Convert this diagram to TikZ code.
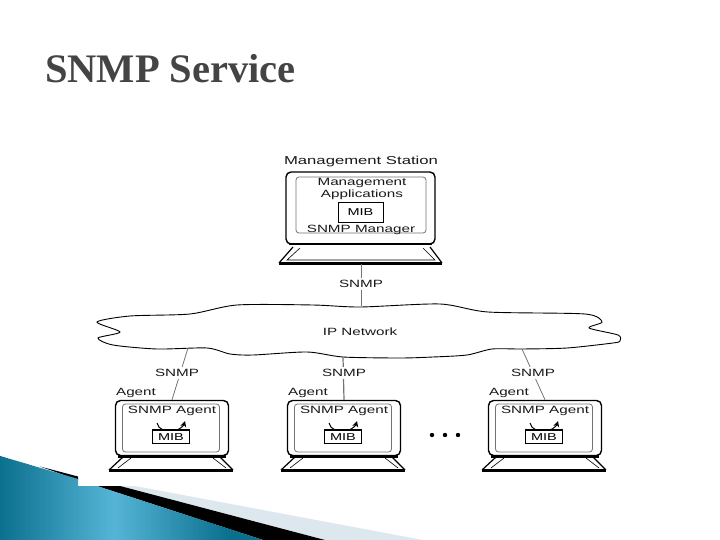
\documentclass[tikz,border=0pt]{standalone}
\usepackage{fontspec}
\setmainfont{Liberation Serif}
\newfontfamily\labelfont[FakeStretch=1.45]{Liberation Sans}
\usepackage{tikz}
\usetikzlibrary{arrows.meta}
\definecolor{titlegray}{HTML}{444444}
\definecolor{tealdark}{HTML}{0B6F8E}
\definecolor{teallight}{HTML}{56B5D6}
\definecolor{stripgray}{HTML}{DCE8EE}
\tikzset{
	lbl/.style={font=\labelfont\fontsize{10.5}{12}\selectfont,inner sep=0pt,text=black!90},
	lblw/.style={lbl,fill=white,inner xsep=1pt,inner ysep=2pt},
	wire/.style={draw=black!55,line width=0.8pt},
	frame/.style={draw=black,line width=1.4pt,rounded corners=5pt,fill=white},
	screen/.style={draw=black!55,line width=0.8pt,rounded corners=3pt},
	mibbox/.style={draw=black,line width=0.8pt,fill=white},
}
\begin{document}
\begin{tikzpicture}[x=1pt,y=-1pt]
	\useasboundingbox (0,0) rectangle (720,540);

	% slide corner
	\fill[stripgray] (135,486) -- (423,540) -- (325,540) -- (120,486) -- cycle;
	\fill[black] (40,466.5) -- (78,476.5) -- (78,480) -- cycle;
	\fill[black] (97,486) -- (120,486) -- (325,540) -- (263,540) -- cycle;
	\begin{scope}
		\clip (0,456) -- (78,479) -- (78,486) -- (97,486) -- (263,540) -- (0,540) -- cycle;
		\foreach \i in {0,...,88}{
			\pgfmathsetmacro\mixval{max(0,100*(1-abs(\i*3-115)/115))}
			\fill[teallight!\mixval!tealdark] (\i*3-2,456) -- (\i*3+2,456) -- (\i*3+2,540) -- (\i*3-2,540) -- cycle;
		}
	\end{scope}

	\node[font=\bfseries\fontsize{40.5}{44}\selectfont,text=titlegray,inner sep=0pt] (title) at (170.5,69) {SNMP Service};

	% cloud
	\draw[black,line width=0.9pt,fill=white] plot[smooth cycle,tension=0.45] coordinates {
		(97,322) (130,316) (190,314) (237,305) (313,305) (360,307) (440,304) (488,312)
		(585,314) (602,322) (589,328) (618,335) (620,341) (613,343) (567,348) (522,349)
		(492,349) (467,355) (433,357) (400,358) (343,357) (307,352) (253,355) (230,354)
		(207,348) (157,349) (113,345) (98,338) (120,332)};
	\node[lbl] (ipnet) at (360,332) {IP Network};
	\coordinate (cloudtop) at (361,306);
	\coordinate (cloudone) at (188,348);
	\coordinate (cloudtwo) at (343,357);
	\coordinate (cloudthree) at (522,349);

	% manager
	\node[lbl,font=\labelfont\fontsize{11.5}{12}\selectfont] (station) at (361,162) {Management Station};
	\draw[black,line width=1.2pt] (293,247) -- (279,263) (430,247) -- (442,263);
	\draw[black,line width=2.4pt] (279,263.5) -- (442,263.5);
	\draw[black,line width=0.6pt] (300,248) -- (287,260) -- (435,260) -- (423,248);
	\node[frame,minimum width=149pt,minimum height=72pt] (mgrframe) at (360.5,208) {};
	\draw[black,line width=2.2pt] (289,244) -- (432,244);
	\node[screen,minimum width=130pt,minimum height=56pt] (mgrscreen) at (361,205) {};
	\node[lbl] (mgrapp) at (362,183) {Management};
	\node[lbl] (mgrapptwo) at (362,195) {Applications};
	\node[mibbox,minimum width=45pt,minimum height=20pt,inner sep=0pt] (mgrmib) at (360.5,212) {\labelfont\fontsize{10}{12}\selectfont MIB};
	\node[lbl] (mgrname) at (361,229.5) {SNMP Manager};
	\coordinate (mgrbase) at (361,264);

	% agents
	\foreach \x/\n in {115/one,287/two,488/three}{
		\begin{scope}[xshift=\x pt]
			\draw[black,line width=1.2pt] (8,457) -- (-6,470) (105,457) -- (118,470);
			\draw[black,line width=3pt] (-6,470) -- (118,470);
			\draw[black,line width=0.6pt] (16,458) -- (3,468) (98,458) -- (111,468);
			\node[frame,minimum width=113pt,minimum height=55pt] (frame\n) at (57,428) {};
			\draw[black,line width=2.6pt] (3,456.5) -- (111,456.5);
			\node[screen,minimum width=97pt,minimum height=48pt] (screen\n) at (56,428) {};
			\node[lbl] (agent\n) at (21,393) {Agent};
			\node[lbl] (name\n) at (57,411) {SNMP Agent};
			\node[mibbox,minimum width=37pt,minimum height=13pt,inner sep=0pt] (mib\n) at (56,437) {\labelfont\fontsize{10}{12}\selectfont MIB};
			\draw[black,line width=1.6pt] (mib\n.north west) -- (mib\n.north east);
			\draw[black,line width=1pt] (42,423) to[bend right=25] (48,430);
			\draw[-{Stealth[length=6pt,width=6pt]},black,line width=1pt] (62,430) to[bend right=25] (70,421);
		\end{scope}
	}

	% links
	\draw[wire] (mgrbase) -- (cloudtop);
	\node[lblw] (snmptop) at (361,284) {SNMP};
	\draw[wire] (cloudone) -- (frameone.north);
	\node[lblw] (snmpone) at (177,373) {SNMP};
	\draw[wire,line width=1.2pt] (cloudtwo) -- (frametwo.north);
	\node[lblw] (snmptwo) at (344,373) {SNMP};
	\draw[wire] (cloudthree) -- (framethree.north);
	\node[lblw] (snmpthree) at (533,373) {SNMP};

	% dots
	\fill[black] (432,435) circle (2.2pt);
	\fill[black] (445,435) circle (2.2pt);
	\fill[black] (458,435) circle (2.2pt);
\end{tikzpicture}
\end{document}
